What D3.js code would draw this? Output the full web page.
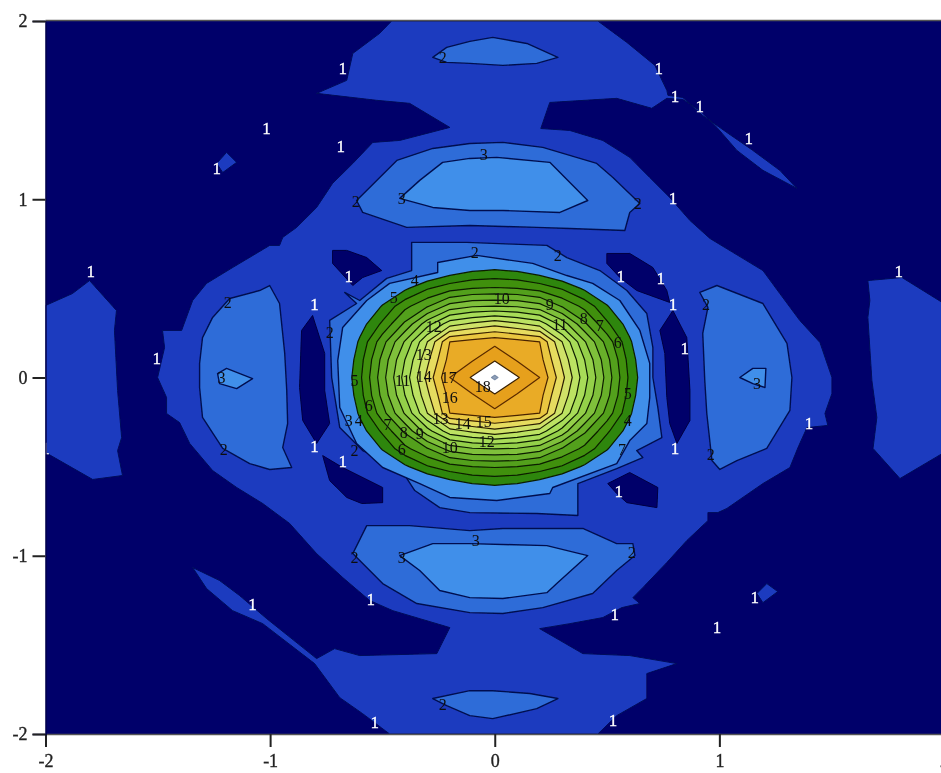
<!DOCTYPE html>
<html>
<head>
<meta charset="utf-8">
<script src="https://cdn.jsdelivr.net/npm/d3@7"></script>
<style>
html,body{margin:0;padding:0;background:#fff;overflow:hidden}
svg{display:block}
text{font-family:"Liberation Serif",serif}
</style>
</head>
<body>
<svg id="chart" width="941" height="773"></svg>
<script>
const xTicks=[-2,-1,0,1,2];
const yTicks=[-2,-1,0,1,2];
const colors={navy:"#00006b",l1:"#1c3bbf",l2:"#2f6cd8",l3:"#408fea"};
const peakLevels=[5,6,7,8,9,10,11,12,13,14,15,16,17,18,19];
const peakColors=["#2e8608","#3f9010","#52a01a","#68b02a","#7fc03a","#94d04a","#a8dc58","#bce262","#d0e268","#e6dc5e","#eac640","#e9ab28","#e6a01c","#ffffff","#8fa0b8"];
const peakStrokes=["#0c1c00","#0c1c00","#0c1c00","#0c1c00","#0c1c00","#0c1c00","#0c1c00","#0c1c00","#1c1c00","#2a1c00","#3a2000","#4a2400","#5a2a00","#3a2000","#7a8ca8"];

const level1Regions=[
[[-.459,2],[.459,2],[.588,1.880],[.713,1.751],[.766,1.611],[.771,1.583],[.837,1.571],[.926,1.470],[1.033,1.375],[1.149,1.274],[1.269,1.162],[1.345,1.061],[1.194,1.162],[1.078,1.274],[.989,1.403],[.913,1.498],[.837,1.560],[.766,1.566],[.699,1.510],[.543,1.566],[.245,1.543],[.205,1.397],[.334,1.386],[.481,1.330],[.601,1.235],[.690,1.122],[.779,1.010],[.869,.881],[.958,.780],[1.060,.702],[1.194,.600],[1.269,.471],[1.358,.320],[1.448,.196],[1.501,0],[1.501,-.090],[1.470,-.202],[1.483,-.269],[1.390,-.281],[1.350,-.393],[1.314,-.505],[1.194,-.595],[1.033,-.735],[.993,-.758],[.949,-.758],[.949,-.803],[.855,-.915],[.766,-1.038],[.659,-1.179],[.615,-1.235],[.646,-1.268],[.566,-1.291],[.481,-1.347],[.334,-1.381],[.200,-1.409],[.392,-1.549],[.601,-1.560],[.811,-1.605],[.677,-1.661],[.677,-1.801],[.543,-1.897],[.459,-2],[-.468,-2],[-.588,-1.886],[-.690,-1.796],[-.802,-1.605],[-1.033,-1.381],[-1.167,-1.308],[-1.283,-1.184],[-1.345,-1.066],[-1.225,-1.139],[-1.136,-1.223],[-1.016,-1.352],[-.793,-1.577],[-.713,-1.521],[-.601,-1.560],[-.258,-1.549],[-.200,-1.403],[-.454,-1.308],[-.557,-1.251],[-.677,-1.122],[-.793,-.988],[-.913,-.819],[-1.033,-.707],[-1.149,-.617],[-1.256,-.522],[-1.358,-.370],[-1.403,-.253],[-1.461,-.202],[-1.461,-.112],[-1.501,0],[-1.470,.168],[-1.479,.264],[-1.394,.264],[-1.345,.432],[-1.283,.528],[-1.167,.617],[-1.002,.741],[-.958,.741],[-.944,.786],[-.882,.842],[-.793,.954],[-.722,1.089],[-.632,1.201],[-.543,1.319],[-.423,1.330],[-.200,1.403],[-.379,1.538],[-.526,1.555],[-.793,1.594],[-.659,1.667],[-.632,1.818],[-.512,1.931]],
[[-2,.404],[-1.880,.471],[-1.804,.544],[-1.684,.376],[-1.693,.264],[-1.679,-.073],[-1.661,-.337],[-1.679,-.410],[-1.657,-.550],[-1.790,-.572],[-2,-.421]],
[[1.661,.544],[1.813,.561],[2,.415],[2,-.421],[1.804,-.567],[1.684,-.398],[1.701,-.224],[1.679,-.017],[1.661,.337],[1.670,.432]],
[[-1.194,1.263],[-1.149,1.207],[-1.211,1.150],[-1.238,1.201]],
[[1.211,-1.156],[1.260,-1.201],[1.194,-1.263],[1.167,-1.212]]
];
const level1Holes=[
[[-.722,.713],[-.659,.713],[-.570,.673],[-.503,.600],[-.588,.561],[-.632,.516],[-.722,.640]],
[[.499,.696],[.601,.696],[.704,.617],[.766,.488],[.779,.421],[.632,.488],[.557,.561],[.499,.640]],
[[.793,.376],[.855,.224],[.869,-.073],[.869,-.241],[.811,-.370],[.779,-.258],[.766,-.112],[.757,.135],[.735,.264]],
[[-.811,.348],[-.757,.135],[-.757,-.073],[-.735,-.258],[-.793,-.370],[-.855,-.241],[-.869,-.056],[-.860,.264]],
[[-.766,-.438],[-.677,-.505],[-.499,-.617],[-.499,-.702],[-.592,-.707],[-.659,-.673],[-.735,-.578]],
[[.601,-.533],[.726,-.617],[.722,-.730],[.588,-.702],[.543,-.651],[.503,-.595]]
];
const level2Regions=[
[[-.276,1.796],[-.214,1.852],[-.111,1.886],[-.009,1.908],[.143,1.874],[.281,1.796],[.187,1.762],[.036,1.751],[-.111,1.762],[-.214,1.768]],
[[-.276,-1.801],[-.111,-1.757],[-.009,-1.757],[.156,-1.773],[.281,-1.801],[.187,-1.858],[-.009,-1.914],[-.111,-1.897],[-.214,-1.841]],
[[-.615,.993],[-.436,1.218],[-.276,1.285],[-.111,1.313],[.036,1.319],[.214,1.291],[.454,1.201],[.526,1.122],[.646,.976],[.601,.926],[.579,.825],[.334,.836],[.187,.842],[-.111,.853],[-.392,.842],[-.588,.926]],
[[-.632,-.988],[-.570,-.831],[-.379,-.831],[-.111,-.859],[.036,-.847],[.392,-.847],[.543,-.932],[.615,-.932],[.624,-.999],[.543,-1.083],[.436,-1.212],[.214,-1.291],[.036,-1.324],[-.111,-1.319],[-.347,-1.268],[-.499,-1.156]],
[[-1.314,.079],[-1.301,.224],[-1.256,.337],[-1.180,.443],[-1.047,.488],[-1.002,.516],[-.958,.415],[-.935,.135],[-.926,-.073],[-.922,-.258],[-.944,-.393],[-.904,-.505],[-1.002,-.516],[-1.091,-.483],[-1.211,-.398],[-1.301,-.224],[-1.314,-.056]],
[[.913,.477],[.989,.516],[1.194,.415],[1.301,.191],[1.323,0],[1.314,-.185],[1.211,-.398],[1.078,-.466],[1.002,-.516],[.967,-.466],[.944,-.202],[.935,-.017],[.926,.247],[.949,.393]],
[[-.370,.758],[-.125,.758],[.232,.741],[.321,.673],[.468,.600],[.588,.488],[.677,.359],[.704,.168],[.704,0],[.726,-.168],[.744,-.337],[.632,-.410],[.659,-.449],[.543,-.511],[.370,-.595],[.370,-.774],[.187,-.763],[-.111,-.758],[-.245,-.730],[-.356,-.634],[-.423,-.505],[-.588,-.410],[-.690,-.281],[-.726,0],[-.735,.320],[-.615,.415],[-.668,.477],[-.601,.432],[-.481,.556],[-.370,.600]]
];
const level3Regions=[
[[-.423,1.005],[-.334,1.106],[-.232,1.207],[-.111,1.229],[.009,1.235],[.245,1.207],[.414,.993],[.290,.926],[.036,.937],[-.111,.937],[-.276,.954]],
[[-.423,-.999],[-.276,-.932],[-.111,-.932],[.232,-.943],[.414,-.999],[.276,-1.156],[.232,-1.207],[.036,-1.240],[-.111,-1.235],[-.245,-1.195],[-.334,-1.083]],
[[-1.234,.022],[-1.194,.051],[-1.078,-.006],[-1.149,-.062],[-1.225,-.034]],
[[1.091,0],[1.149,.051],[1.207,.051],[1.203,-.056],[1.149,-.034]],
[[-.254,.645],[-.080,.685],[.169,.640],[.321,.572],[.436,.528],[.557,.432],[.646,.264],[.690,.079],[.690,-.112],[.677,-.258],[.601,-.354],[.543,-.483],[.258,-.617],[.245,-.651],[.009,-.690],[-.200,-.673],[-.334,-.595],[-.499,-.505],[-.615,-.370],[-.690,-.168],[-.699,.095],[-.677,.281],[-.570,.432],[-.468,.528],[-.254,.589]]
];

const peakXStart=-.7, peakYStart=.7, peakStep=.1;
const peakGrid=[
[2,2,2.2,2.5,2.8,3,3,3,3,3,2.8,2.5,2.2,2,2],
[2,2.3,2.6,3,3.7,4.4,4.9,5.1,4.9,4.4,3.7,3,2.6,2.3,2],
[2,2.9,3.6,4.8,5.9,6.6,7,7.1,7,6.6,5.9,4.8,3.6,2.9,2],
[2.3,3.3,5.1,6.7,7.9,9.4,9.9,10,9.9,9.4,7.9,6.7,5.1,3.3,2.3],
[2.9,4.5,6.2,8.2,10.6,12.6,13.2,13.7,13.2,12.6,10.6,8.2,6.2,4.5,2.9],
[3.1,5.2,7.6,10.1,13,16,16.4,16.7,16.4,16,13,10.1,7.6,5.2,3.1],
[3.4,5.6,8.3,11,13.75,16.4,16.9,17.9,16.9,16.4,13.75,11,8.3,5.6,3.4],
[3.6,5.8,8.6,11.4,14.3,17,18.1,19.15,18.1,17,14.3,11.4,8.6,5.8,3.6],
[3.4,5.6,8.3,11,13.75,16.4,16.9,17.9,16.9,16.4,13.75,11,8.3,5.6,3.4],
[3.1,5.2,7.6,10.1,13,16,16.4,16.7,16.4,16,13,10.1,7.6,5.2,3.1],
[2.9,4.5,6.2,8.2,10.6,12.6,13.2,13.7,13.2,12.6,10.6,8.2,6.2,4.5,2.9],
[2.3,3.3,5.1,6.7,7.9,9.4,9.9,10,9.9,9.4,7.9,6.7,5.1,3.3,2.3],
[2,2.9,3.6,4.8,5.9,6.6,7,7.1,7,6.6,5.9,4.8,3.6,2.9,2],
[2,2.3,2.6,3,3.7,4.4,4.9,5.1,4.9,4.4,3.7,3,2.6,2.3,2],
[2,2,2.2,2.5,2.8,3,3,3,3,3,2.8,2.5,2.2,2,2]
];

const whiteLabels=[[-.677,1.734],[.730,1.734],[.802,1.577],[.913,1.521],[1.131,1.341],[-1.016,1.397],[-.686,1.296],[-1.238,1.173],[.793,1.005],[-1.799,.600],[-.650,.567],[.561,.567],[.739,.556],[-.802,.410],[.793,.410],[.846,.163],[-1.505,.107],[1.799,.600],[1.399,-.253],[-.802,-.387],[-.677,-.466],[.802,-.393],[.552,-.634],[-1.078,-1.268],[-.552,-1.240],[.534,-1.324],[1.158,-1.229],[.989,-1.397],[-.534,-1.931],[.526,-1.919],[-2,-.398]];
const darkLabels=[["3",-.049,1.251],["2",-.619,.988],["3",-.414,1.005],["2",.637,.976],["2",-.232,1.796],["2",-.232,-1.835],["2",-.089,.702],["2",.281,.685],["4",-.356,.544],["5",-.450,.449],["2",-1.189,.421],["2",.940,.410],["10",.031,.443],["9",.245,.410],["11",.290,.297],["8",.396,.331],["7",.468,.292],["6",.548,.196],["12",-.272,.286],["2",-.735,.253],["13",-.316,.129],["3",-1.216,0],["3",1.167,-.034],["5",-.624,-.017],["11",-.410,-.017],["14",-.316,.006],["17",-.205,0],["18",-.053,-.051],["5",.592,-.090],["16",-.200,-.112],["6",-.561,-.157],["4",.592,-.241],["13",-.241,-.230],["14",-.143,-.258],["15",-.049,-.247],["3",-.650,-.241],["4",-.606,-.241],["7",-.477,-.264],["8",-.405,-.309],["9",-.334,-.314],["10",-.200,-.393],["12",-.036,-.359],["6",-.414,-.404],["2",-.624,-.410],["7",.566,-.404],["2",-1.207,-.404],["2",.962,-.432],["3",-.085,-.915],["2",-.624,-1.010],["3",-.414,-1.010],["2",.610,-.982]];

const width=941,height=773;
const x=d3.scaleLinear().domain([-2,2]).range([45.5,944]);
const y=d3.scaleLinear().domain([-2,2]).range([734,21]);
const svg=d3.select("#chart");
const defs=svg.append("defs");
defs.append("clipPath").attr("id","plot").append("rect")
  .attr("x",x(-2)).attr("y",y(2)).attr("width",x(2)-x(-2)).attr("height",y(-2)-y(2));
defs.append("filter").attr("id","soft").append("feGaussianBlur").attr("stdDeviation",.5);
defs.append("filter").attr("id","softText").attr("x","-20%").attr("y","-20%").attr("width","140%").attr("height","140%")
  .append("feGaussianBlur").attr("stdDeviation",.35);

const plot=svg.append("g").attr("clip-path","url(#plot)").append("g").attr("filter","url(#soft)");
plot.append("rect").attr("x",x(-2)).attr("y",y(2)).attr("width",x(2)-x(-2)).attr("height",y(-2)-y(2)).attr("fill",colors.navy);

const line=d3.line().x(d=>x(d[0])).y(d=>y(d[1])).curve(d3.curveLinearClosed);
function drawPolys(polys,fill,stroke,sw){
  plot.append("g").selectAll("path").data(polys).join("path")
    .attr("d",line).attr("fill",fill).attr("stroke",stroke).attr("stroke-width",sw).attr("stroke-linejoin","round");
}
drawPolys(level1Regions,colors.l1,"#000c5a",1);
drawPolys(level1Holes,colors.navy,"#000040",1);
drawPolys(level2Regions,colors.l2,"#001050",1.4);
drawPolys(level3Regions,colors.l3,"#001050",1.4);

const nRows=peakGrid.length,nCols=peakGrid[0].length;
const contourGen=d3.contours().size([nCols,nRows]).thresholds(peakLevels);
const bands=contourGen(peakGrid.flat());
const gridProjection=d3.geoTransform({point(cx,cy){
  this.stream.point(x(peakXStart+(cx-.5)*peakStep),y(peakYStart-(cy-.5)*peakStep));
}});
const geoPath=d3.geoPath(gridProjection);
plot.append("g").selectAll("path").data(bands).join("path")
  .attr("d",geoPath)
  .attr("fill",(d,i)=>peakColors[i])
  .attr("stroke",(d,i)=>peakStrokes[i]).attr("stroke-width",1.2).attr("stroke-linejoin","round");

const labels=svg.append("g").attr("clip-path","url(#plot)").append("g").attr("filter","url(#softText)");
labels.selectAll("text.w").data(whiteLabels).join("text").attr("class","w")
  .attr("x",d=>x(d[0])).attr("y",d=>y(d[1])+6).attr("text-anchor","middle")
  .attr("font-size",17).attr("fill","#fff").attr("stroke","#fff").attr("stroke-width",.3).text("1");
labels.selectAll("text.d").data(darkLabels).join("text").attr("class","d")
  .attr("x",d=>x(d[1])).attr("y",d=>y(d[2])+5.5).attr("text-anchor","middle")
  .attr("font-size",16).attr("fill","#101010").text(d=>d[0]);

const axes=svg.append("g").attr("filter","url(#softText)");
const axB=axes.append("g").attr("transform",`translate(0,${y(-2)})`)
  .call(d3.axisBottom(x).tickValues(xTicks).tickFormat(d3.format("d")).tickSize(13).tickPadding(7));
const axL=axes.append("g").attr("transform",`translate(${x(-2)},0)`)
  .call(d3.axisLeft(y).tickValues(yTicks).tickFormat(d3.format("d")).tickSize(13).tickPadding(5));
[axB,axL].forEach(a=>{
  a.selectAll("text").attr("font-family","Liberation Serif, serif").attr("font-size",18).attr("fill","#222").attr("stroke","#222").attr("stroke-width",.35);
  a.selectAll(".tick line").attr("stroke","#222").attr("stroke-width",2);
  a.select(".domain").attr("stroke","#555").attr("stroke-width",1.4);
  a.selectAll("text").text(function(){return this.textContent.replace("\u2212","-");});
});
axL.select(".domain").attr("stroke","#00004a");
axes.append("line").attr("x1",x(-2)).attr("x2",width).attr("y1",y(2)-.5).attr("y2",y(2)-.5).attr("stroke","#555").attr("stroke-width",1.4);
</script>
</body>
</html>
